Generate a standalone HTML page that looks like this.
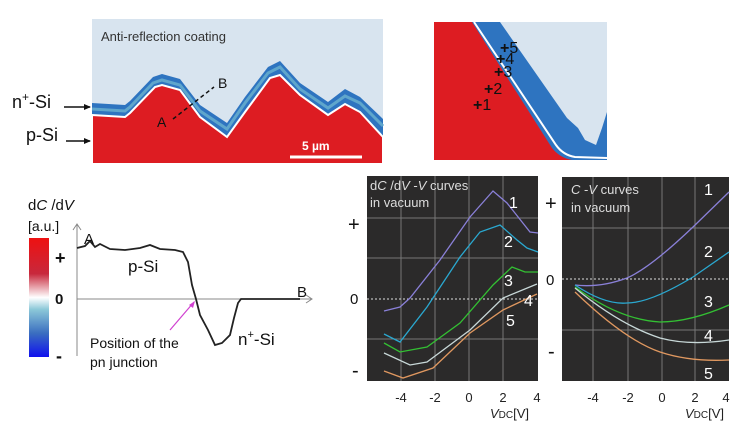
<!DOCTYPE html>
<html><head><meta charset="utf-8"><style>
html,body{margin:0;padding:0;background:#fff;}
svg{display:block;font-family:"Liberation Sans",sans-serif;}
</style></head><body>
<svg width="744" height="434" viewBox="0 0 744 434" xmlns="http://www.w3.org/2000/svg">
<defs>
<linearGradient id="cb" x1="0" y1="0" x2="0" y2="1">
<stop offset="0" stop-color="#ee1111"/><stop offset="0.3" stop-color="#c8283c"/><stop offset="0.5" stop-color="#ffffff"/><stop offset="0.6" stop-color="#8cc8d8"/><stop offset="0.8" stop-color="#3a6ec0"/><stop offset="1" stop-color="#1010ee"/>
</linearGradient>
</defs>
<!-- top-left image -->
<rect x="92" y="19" width="291" height="145" fill="#d8e4ef"/>
<path d="M92,103 L125,105 L130,101 L153,77 L162,74 L180,79 L200,105 L227,123 L245,97 L268,67 L280,61 L300,83 L328,102 L345,89 L360,97 L383,119 L383,164 L92,164Z" fill="#2e74c0"/>
<path d="M92,109 L125,111 L130,107 L153,83 L162,80 L180,85 L200,111 L227,129 L245,103 L268,73 L280,67 L300,89 L328,108 L345,96 L360,103 L383,126" fill="none" stroke="#5fa6cc" stroke-width="3"/>
<path d="M92,115 L125,117 L130,113 L155,87 L162,85 L180,90 L200,117 L227,137 L245,112 L270,78 L280,75 L300,95 L328,115 L345,104 L360,112 L383,137 L383,164 L92,164Z" fill="#dd1c22" stroke="#fff" stroke-width="2"/>
<text x="101" y="41" font-size="13" fill="#333">Anti-reflection coating</text>
<line x1="173" y1="119" x2="214" y2="87" stroke="#111" stroke-width="1.5" stroke-dasharray="4,3"/>
<text x="218" y="88" font-size="14" fill="#111">B</text>
<text x="157" y="127" font-size="14" fill="#111">A</text>
<line x1="290" y1="157" x2="362" y2="157" stroke="#fff" stroke-width="3"/>
<text x="302" y="150" font-size="12" fill="#fff" font-weight="bold">5 µm</text>
<text x="12" y="108" font-size="18" fill="#111">n<tspan font-size="12" dy="-7">+</tspan><tspan dy="7">-Si</tspan></text>
<line x1="64" y1="107" x2="90" y2="107" stroke="#111" stroke-width="1.5"/><path d="M91,107 l-7,-3 v6z" fill="#111"/>
<text x="26" y="141" font-size="18" fill="#111">p-Si</text>
<line x1="66" y1="141" x2="90" y2="141" stroke="#111" stroke-width="1.5"/><path d="M91,141 l-7,-3 v6z" fill="#111"/>
<!-- top-right image -->
<rect x="434" y="22" width="173" height="138" fill="#dd1c22"/>
<path d="M472,22 L607,22 L607,160 L572,160 Q560,158 552,148 Z" fill="#2e74c0"/>
<path d="M474,22 L556,145 Q563,155 575,157 L607,158" fill="none" stroke="#fff" stroke-width="2"/>
<path d="M500,22 L607,22 L607,112 L602,128 L596,145 L585,140 L578,128 L567,118 Z" fill="#d8e4ef"/>
<g font-size="16" fill="#111">
<text x="500" y="53"><tspan font-weight="bold">+</tspan>5</text><text x="496" y="64"><tspan font-weight="bold">+</tspan>4</text><text x="494" y="77"><tspan font-weight="bold">+</tspan>3</text><text x="484" y="94"><tspan font-weight="bold">+</tspan>2</text><text x="473" y="110"><tspan font-weight="bold">+</tspan>1</text></g>
<!-- bottom-left chart -->
<text x="28" y="210" font-size="15" fill="#111">d<tspan font-style="italic">C</tspan> /d<tspan font-style="italic">V</tspan></text>
<text x="28" y="231" font-size="14" fill="#111">[a.u.]</text>
<rect x="29" y="238" width="20" height="119" fill="url(#cb)"/>
<text x="55" y="264" font-size="18" font-weight="bold" fill="#111">+</text>
<text x="55" y="304" font-size="15" font-weight="bold" fill="#111">0</text>
<text x="56" y="362" font-size="18" font-weight="bold" fill="#111">-</text>
<line x1="77" y1="224" x2="77" y2="356" stroke="#888"/>
<path d="M73,230 L77,224 L81,230" fill="none" stroke="#888"/>
<line x1="77" y1="299" x2="312" y2="299" stroke="#888"/>
<path d="M306,295 L312,299 L306,303" fill="none" stroke="#888"/>
<path d="M77,248 L85,246 L90,241 L95,247 L100,244 L110,249 L125,250 L140,248 L150,245 L160,249 L175,250 L183,252 L188,262 L192,285 L196,299 L200,315 L208,330 L215,345 L222,343 L230,335 L234,318 L238,303 L241,299 L300,299" fill="none" stroke="#222" stroke-width="1.8"/>
<text x="84" y="244" font-size="15" fill="#111">A</text>
<text x="297" y="297" font-size="15" fill="#111">B</text>
<text x="128" y="272" font-size="17" fill="#111">p-Si</text>
<text x="238" y="345" font-size="17" fill="#111">n<tspan font-size="11" dy="-7">+</tspan><tspan dy="7">-Si</tspan></text>
<line x1="170" y1="330" x2="194" y2="302" stroke="#d040d0" stroke-width="1.2"/>
<path d="M195,301 l-2,7 l-4,-3z" fill="#d040d0"/>
<text x="90" y="348" font-size="14" fill="#111">Position of the</text>
<text x="90" y="367" font-size="14" fill="#111">pn junction</text>
<!-- dC/dV panel -->
<rect x="367" y="176" width="171" height="205" fill="#2b2a2a"/>
<g stroke="#777" stroke-width="1">
<line x1="401" y1="176" x2="401" y2="381"/><line x1="435" y1="176" x2="435" y2="381"/><line x1="469" y1="176" x2="469" y2="381"/><line x1="503" y1="176" x2="503" y2="381"/>
<line x1="367" y1="218" x2="538" y2="218"/><line x1="367" y1="258" x2="538" y2="258"/><line x1="367" y1="339" x2="538" y2="339"/></g>
<line x1="367" y1="299" x2="538" y2="299" stroke="#ddd" stroke-dasharray="2,2"/>
<g fill="none" stroke-width="1.3">
<path d="M384,311 L400,307 L410,298 L440,260 L470,217 L493,191 L507,203 L530,232 L538,233" stroke="#8a80d8"/>
<path d="M384,334 L400,342 L427,307 L460,257 L480,232 L500,225 L517,240 L527,248 L538,252" stroke="#2aa8d0"/>
<path d="M384,343 L400,352 L427,347 L460,323 L493,285 L512,267 L525,272 L538,272" stroke="#33c033"/>
<path d="M384,353 L410,365 L427,362 L470,330 L503,298 L537,284" stroke="#c8d8d8"/>
<path d="M384,371 L403,378 L433,368 L470,333 L503,310 L537,294" stroke="#e09860"/>
</g>
<g font-size="16" fill="#fff">
<text x="509" y="208">1</text><text x="504" y="247">2</text><text x="504" y="286">3</text><text x="524" y="306">4</text><text x="506" y="326">5</text></g>
<text x="370" y="190" font-size="13" fill="#ddd">d<tspan font-style="italic">C</tspan> /d<tspan font-style="italic">V</tspan> -<tspan font-style="italic">V</tspan> curves</text>
<text x="370" y="207" font-size="13" fill="#ddd">in vacuum</text>
<text x="348" y="231" font-size="20" fill="#111">+</text>
<text x="350" y="304" font-size="15" fill="#111">0</text>
<text x="352" y="377" font-size="20" fill="#111">-</text>
<!-- C-V panel -->
<rect x="562" y="177" width="167" height="204" fill="#2b2a2a"/>
<g stroke="#777" stroke-width="1">
<line x1="593" y1="177" x2="593" y2="381"/><line x1="628" y1="177" x2="628" y2="381"/><line x1="662" y1="177" x2="662" y2="381"/><line x1="695" y1="177" x2="695" y2="381"/>
<line x1="562" y1="228" x2="729" y2="228"/><line x1="562" y1="330" x2="729" y2="330"/></g>
<line x1="562" y1="279" x2="729" y2="279" stroke="#ddd" stroke-dasharray="2,2"/>
<g fill="none" stroke-width="1.3">
<path d="M575,285 Q600,288 627,278 Q650,268 693,227 L729,192" stroke="#8a80d8"/>
<path d="M575,285 Q605,305 627,303 Q650,303 693,277 L729,252" stroke="#2aa8d0"/>
<path d="M575,287 Q620,320 660,322 Q690,322 729,305" stroke="#33c033"/>
<path d="M575,288 Q620,325 660,338 Q690,346 729,340" stroke="#c8d8d8"/>
<path d="M575,292 Q625,340 660,352 Q690,362 729,360" stroke="#e09860"/>
</g>
<g font-size="16" fill="#fff">
<text x="704" y="195">1</text><text x="704" y="257">2</text><text x="704" y="307">3</text><text x="704" y="341">4</text><text x="704" y="379">5</text></g>
<text x="571" y="194" font-size="13" fill="#ddd"><tspan font-style="italic">C</tspan> -<tspan font-style="italic">V</tspan> curves</text>
<text x="571" y="212" font-size="13" fill="#ddd">in vacuum</text>
<text x="545" y="210" font-size="20" fill="#111">+</text>
<text x="546" y="285" font-size="15" fill="#111">0</text>
<text x="548" y="358" font-size="20" fill="#111">-</text>
<!-- tick labels -->
<g font-size="13" fill="#222" text-anchor="middle">
<text x="401" y="402">-4</text><text x="435" y="402">-2</text><text x="469" y="402">0</text><text x="503" y="402">2</text><text x="537" y="402">4</text>
<text x="593" y="402">-4</text><text x="628" y="402">-2</text><text x="662" y="402">0</text><text x="695" y="402">2</text><text x="726" y="402">4</text></g>
<text x="490" y="418" font-size="13" fill="#222"><tspan font-style="italic">V</tspan><tspan font-size="10">DC</tspan>[V]</text>
<text x="685" y="418" font-size="13" fill="#222"><tspan font-style="italic">V</tspan><tspan font-size="10">DC</tspan>[V]</text>
</svg>
</body></html>
